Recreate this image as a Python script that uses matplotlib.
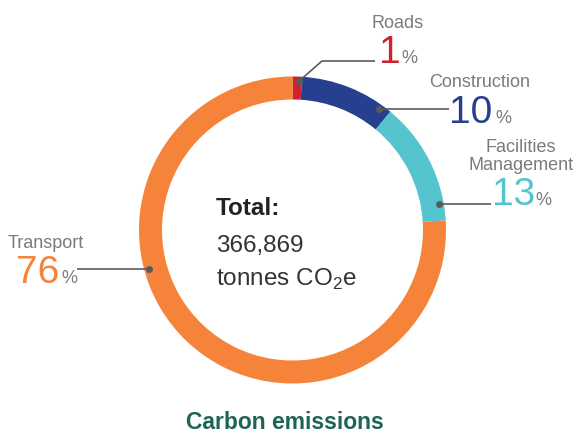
import numpy as np
import matplotlib
matplotlib.use("Agg")
import matplotlib.pyplot as plt

plt.rcParams['font.family'] = ['Liberation Sans', 'DejaVu Sans']
plt.rcParams['mathtext.fontset'] = 'custom'
plt.rcParams['mathtext.rm'] = 'Liberation Sans'

# data
categories = ['Roads', 'Construction', 'Facilities\nManagement', 'Transport']
shares = [1, 10, 13, 76]
colors = ['#d0202e', '#263f8e', '#55c4ce', '#f5843a']
total = '366,869'

W, H = 579, 434
cx, cy = 292.5, 230      # donut centre in pixel coords (y down)
R, ring = 153.5, 23

fig = plt.figure(figsize=(W / 100, H / 100), dpi=100)
ax = fig.add_axes([0, 0, 1, 1])

# y axis points down, so counterclock=True runs clockwise on screen
ax.pie(shares, colors=colors, center=(cx, cy), radius=R, startangle=-90,
       counterclock=True, wedgeprops=dict(width=ring, linewidth=0))
ax.set_xlim(0, W)
ax.set_ylim(H, 0)
ax.set_aspect('equal')
ax.axis('off')

grey = '#7b7b7b'
line_c = '#5b5b5b'


def on_ring(deg, r=149):
    # deg measured clockwise from the top
    a = np.deg2rad(deg)
    return cx + r * np.sin(a), cy - r * np.cos(a)


# leader lines: anchor angle on ring, optional elbow, x where the line stops
leaders = [
    (2.5, (322, 61), 375),
    (35.6, None, 449),
    (80, None, 491),
    (254.9, None, 77),
]
for deg, elbow, x_end in leaders:
    x0, y0 = on_ring(deg)
    if elbow:
        xs, ys = [x0, elbow[0], x_end], [y0, elbow[1], elbow[1]]
    else:
        xs, ys = [x0, x_end], [y0, y0]
    ax.plot(xs, ys, color=line_c, lw=1.2, solid_capstyle='butt')
    ax.plot(x0, y0, 'o', color=line_c, ms=4)

# labels: name, big number, small percent sign
ax.text(398, 28, categories[0], ha='center', va='baseline', fontsize=13, color=grey)
ax.text(379, 63, str(shares[0]), ha='left', va='baseline', fontsize=28, color=colors[0])
ax.text(401, 63, '%', ha='left', va='baseline', fontsize=13, color=grey)

ax.text(480, 87, categories[1], ha='center', va='baseline', fontsize=13, color=grey)
ax.text(449, 123, str(shares[1]), ha='left', va='baseline', fontsize=28, color=colors[1])
ax.text(495, 123, '%', ha='left', va='baseline', fontsize=13, color=grey)

ax.text(521, 170, categories[2], ha='center', va='baseline', fontsize=13, color=grey,
        multialignment='center', linespacing=1.1)
ax.text(492, 205, str(shares[2]), ha='left', va='baseline', fontsize=28, color=colors[2])
ax.text(535, 205, '%', ha='left', va='baseline', fontsize=13, color=grey)

ax.text(8, 248, categories[3], ha='left', va='baseline', fontsize=13, color=grey)
ax.text(16, 283, str(shares[3]), ha='left', va='baseline', fontsize=28, color=colors[3])
ax.text(61, 283, '%', ha='left', va='baseline', fontsize=13, color=grey)

# centre text
ax.text(216, 215, 'Total:', ha='left', va='baseline', fontsize=17.5,
        fontweight='bold', color='#222222')
ax.text(216, 252, total, ha='left', va='baseline', fontsize=17.5, color='#333333')
ax.text(216, 286, r'tonnes CO$_\mathregular{2}$e', ha='left', va='baseline',
        fontsize=17.5, color='#333333')

ax.text(285, 429, 'Carbon emissions', ha='center', va='baseline', fontsize=16.5,
        fontweight='bold', color='#1e6455')

fig.savefig('out.png', dpi=100)
